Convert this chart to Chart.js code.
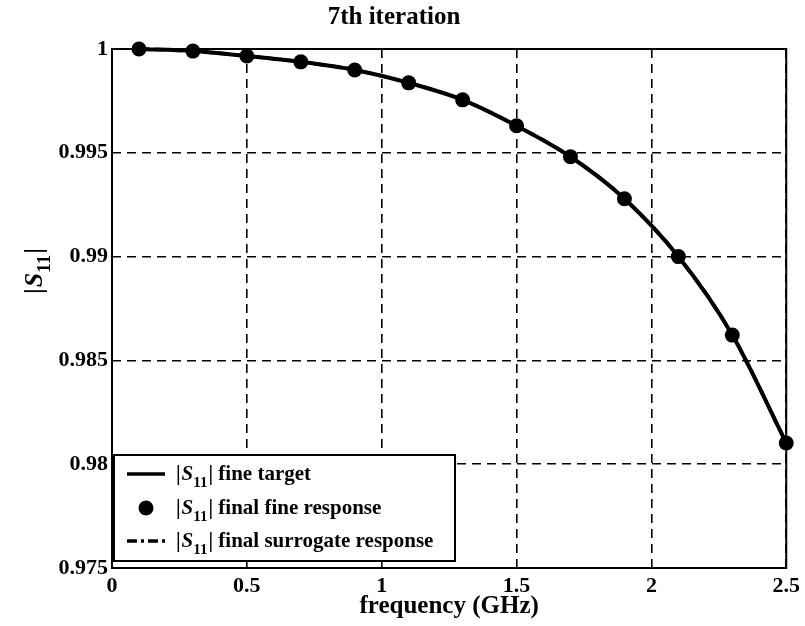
<!DOCTYPE html>
<html>
<head>
<meta charset="utf-8">
<title>7th iteration</title>
<script src="https://cdn.jsdelivr.net/npm/chart.js@4/dist/chart.umd.min.js"></script>
<style>
  html, body { margin: 0; padding: 0; background: #fff; }
  #wrap { width: 805px; height: 626px; position: relative; }
</style>
</head>
<body>
<div id="wrap"><canvas id="chart"></canvas></div>
<script>
// frequency samples (GHz) and |S11| values
const freqGHz = [0.1, 0.3, 0.5, 0.7, 0.9, 1.1, 1.3, 1.5, 1.7, 1.9, 2.1, 2.3, 2.5];
const targetS11 = [1.0000, 0.99990, 0.99966, 0.99938, 0.99899, 0.99837, 0.99755, 0.99630, 0.99481, 0.99279, 0.99000, 0.98622, 0.98102];
const fineS11 = [1.0000, 0.99990, 0.99966, 0.99938, 0.99899, 0.99837, 0.99755, 0.99630, 0.99481, 0.99279, 0.99000, 0.98622, 0.98102];
const surrogateS11 = [1.0000, 0.99990, 0.99966, 0.99938, 0.99899, 0.99837, 0.99755, 0.99630, 0.99481, 0.99279, 0.99000, 0.98622, 0.98102];
const xTicks = [0, 0.5, 1, 1.5, 2, 2.5];
const yTicks = [0.975, 0.98, 0.985, 0.99, 0.995, 1];
const legendLabels = ['fine target', 'final fine response', 'final surrogate response'];

const SERIF = '"Liberation Serif", "DejaVu Serif", serif';

const toXY = (ys) => freqGHz.map((f, i) => ({ x: f, y: ys[i] }));

// draws "|S11|" with italic S and subscript 11, returns end x
function drawS11(ctx, x, y, size) {
  ctx.textBaseline = 'alphabetic';
  ctx.textAlign = 'left';
  ctx.font = `bold ${size}px ${SERIF}`;
  ctx.fillText('|', x, y);
  x += ctx.measureText('|').width + 1;
  ctx.font = `italic bold ${size}px ${SERIF}`;
  ctx.fillText('S', x, y);
  x += ctx.measureText('S').width;
  const sub = Math.round(size * 0.72);
  ctx.font = `bold ${sub}px ${SERIF}`;
  ctx.fillText('11', x, y + size * 0.32);
  x += ctx.measureText('11').width + 1;
  ctx.font = `bold ${size}px ${SERIF}`;
  ctx.fillText('|', x, y);
  x += ctx.measureText('|').width;
  return x;
}

const decorPlugin = {
  id: 'decor',
  beforeDatasetsDraw(chart) {
    // plot frame under the curves
    const ctx = chart.ctx;
    const a = chart.chartArea;
    ctx.save();
    ctx.strokeStyle = '#000';
    ctx.lineWidth = 2;
    ctx.strokeRect(a.left, a.top, a.right - a.left, a.bottom - a.top);
    ctx.restore();
  },
  afterDraw(chart) {
    const ctx = chart.ctx;
    const a = chart.chartArea;
    ctx.save();
    ctx.fillStyle = '#000';
    ctx.strokeStyle = '#000';

    // rotated y-axis title
    ctx.save();
    ctx.translate(42, 268);
    ctx.rotate(-Math.PI / 2);
    drawS11(ctx, -26, 0, 26);
    ctx.restore();

    // legend box
    const box = { left: a.left + 2, top: 455, right: 455, bottom: 561 };
    ctx.fillStyle = '#fff';
    ctx.fillRect(box.left, box.top, box.right - box.left, box.bottom - box.top);
    ctx.lineWidth = 2;
    ctx.strokeRect(box.left, box.top, box.right - box.left, box.bottom - box.top);
    ctx.fillStyle = '#000';

    const rows = [474, 508, 541];
    const sx0 = 127, sx1 = 165;
    rows.forEach((ry, i) => {
      ctx.lineWidth = 3.5;
      if (i === 0) {
        ctx.setLineDash([]);
        ctx.beginPath(); ctx.moveTo(sx0, ry); ctx.lineTo(sx1, ry); ctx.stroke();
      } else if (i === 1) {
        ctx.beginPath(); ctx.arc((sx0 + sx1) / 2, ry, 7.5, 0, Math.PI * 2); ctx.fill();
      } else {
        ctx.setLineDash([10, 4, 3, 4]);
        ctx.beginPath(); ctx.moveTo(sx0, ry); ctx.lineTo(sx1, ry); ctx.stroke();
        ctx.setLineDash([]);
      }
      const ex = drawS11(ctx, 176, ry + 6, 21);
      ctx.font = `bold 21px ${SERIF}`;
      ctx.fillText(' ' + legendLabels[i], ex, ry + 6);
    });
    ctx.restore();
  }
};

new Chart(document.getElementById('chart'), {
  type: 'line',
  data: {
    datasets: [
      {
        label: 'fine target',
        data: toXY(targetS11),
        borderColor: '#000',
        borderWidth: 4,
        pointRadius: 0,
        cubicInterpolationMode: 'monotone',
        clip: false,
        order: 3
      },
      {
        label: 'final surrogate response',
        data: toXY(surrogateS11),
        borderColor: '#000',
        borderWidth: 3.5,
        borderDash: [10, 6],
        pointRadius: 0,
        cubicInterpolationMode: 'monotone',
        clip: false,
        order: 2
      },
      {
        label: 'final fine response',
        data: toXY(fineS11),
        showLine: false,
        pointRadius: 7.5,
        pointBackgroundColor: '#000',
        pointBorderColor: '#000',
        pointBorderWidth: 0,
        clip: false,
        order: 1
      }
    ]
  },
  options: {
    responsive: true,
    maintainAspectRatio: false,
    animation: false,
    events: [],
    layout: { padding: { top: 0, right: 17, bottom: 0, left: 0 } },
    plugins: {
      legend: { display: false },
      tooltip: { enabled: false },
      title: {
        display: true,
        text: '7th iteration',
        color: '#000',
        font: { family: SERIF, size: 25, weight: 'bold' },
        padding: { top: 3, bottom: 16 }
      }
    },
    scales: {
      x: {
        type: 'linear',
        min: 0,
        max: 2.5,
        afterBuildTicks: (s) => { s.ticks = xTicks.map(v => ({ value: v })); },
        afterFit: (s) => { s.height = 58; },
        ticks: {
          color: '#000',
          padding: 5,
          maxRotation: 0,
          font: { family: SERIF, size: 22, weight: 'bold' },
          callback: (v) => String(v)
        },
        grid: { color: '#000', lineWidth: 1.6, drawTicks: false },
        border: { display: false, dash: [9, 6] },
        title: {
          display: true,
          text: 'frequency (GHz)',
          color: '#000',
          font: { family: SERIF, size: 25, weight: 'bold' },
          padding: { top: 0, bottom: 4 }
        }
      },
      y: {
        min: 0.975,
        max: 1,
        afterBuildTicks: (s) => { s.ticks = yTicks.map(v => ({ value: v })); },
        afterFit: (s) => { s.width = 112; },
        ticks: {
          color: '#000',
          padding: 4,
          font: { family: SERIF, size: 22, weight: 'bold' },
          callback: (v) => String(Number(v.toFixed(3)))
        },
        grid: { color: '#000', lineWidth: 1.6, drawTicks: false },
        border: { display: false, dash: [9, 6] }
      }
    }
  },
  plugins: [decorPlugin]
});
</script>
</body>
</html>
